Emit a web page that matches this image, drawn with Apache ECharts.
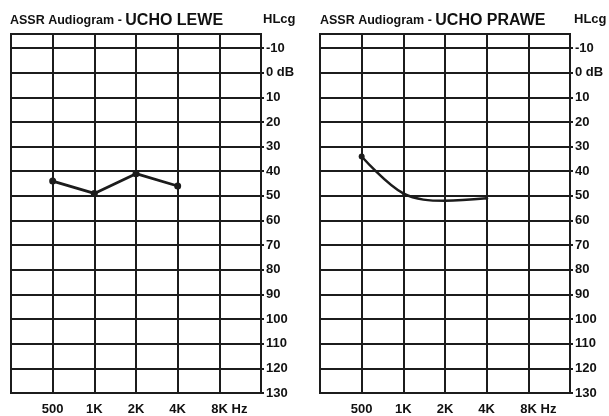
<!DOCTYPE html>
<html><head><meta charset="utf-8">
<script src="https://cdn.jsdelivr.net/npm/echarts@6/dist/echarts.min.js"></script>
<style>html,body{margin:0;padding:0;background:#fff}#c{width:609px;height:416px}</style>
</head><body><div id="c"></div>
<script>
const freqLabels = ['500', '1K', '2K', '4K', '8K'];
const leftEar = [44, 49, 41, 46, null];
const rightEar = [34, 49, 52, 51, null];
const dbTicks = [-10, 0, 10, 20, 30, 40, 50, 60, 70, 80, 90, 100, 110, 120, 130];
const titleLeft = ['ASSR Audiogram - ', 'UCHO LEWE'];
const titleRight = ['ASSR Audiogram - ', 'UCHO PRAWE'];
const unitY = 'HLcg';
const unitX = 'Hz';
const zeroLabel = '0 dB';

const cats = [''].concat(freqLabels, ['']);
const pad = arr => [null].concat(arr, [null]);
const ink = '#1c1c1c';
const fontFam = 'Liberation Sans, Arial, sans-serif';

function xAxis(gi) {
  return {
    gridIndex: gi, type: 'category', data: cats, boundaryGap: false,
    axisLine: {show: true, lineStyle: {color: ink, width: 2}},
    axisTick: {show: true, length: 3, interval: (i) => i > 0 && i < cats.length - 1, lineStyle: {color: ink, width: 2}},
    splitLine: {show: true, interval: 0, lineStyle: {color: ink, width: 2}},
    axisLabel: {
      interval: 0, margin: 10, color: '#111', fontSize: 13, fontWeight: 'bold', fontFamily: fontFam,
      formatter: (v, i) => i === cats.length - 2 ? '{p|}' + v + ' ' + unitX : v,
      rich: {p: {width: 20}}
    }
  };
}
function yAxis(gi) {
  return {
    gridIndex: gi, type: 'value', inverse: true, position: 'right',
    min: -15.7, max: 130,
    axisLine: {show: true, lineStyle: {color: ink, width: 2}},
    axisTick: {show: true, inside: false, length: 3, customValues: dbTicks, lineStyle: {color: ink, width: 2}},
    splitLine: {show: true, lineStyle: {color: ink, width: 2}},
    axisLabel: {
      customValues: dbTicks, margin: 5, color: '#111', fontSize: 13, fontWeight: 'bold', fontFamily: fontFam,
      formatter: v => v === 0 ? zeroLabel : String(v)
    }
  };
}
function title(parts, left) {
  return {
    text: '{a|' + parts[0] + '}{b|' + parts[1] + '}', left: left, top: 13, padding: 0,
    textStyle: {rich: {
      a: {fontSize: 12.5, fontFamily: fontFam, color: '#111', fontWeight: 'bold'},
      b: {fontSize: 16, fontFamily: fontFam, color: '#111'}
    }}
  };
}
function unitTitle(left) {
  return {text: unitY, left: left, top: 13, padding: 0,
    textStyle: {fontSize: 13, fontWeight: 'bold', fontFamily: fontFam, color: '#111'}};
}

const chart = echarts.init(document.getElementById('c'), null, {renderer: 'canvas'});
chart.setOption({
  animation: false,
  backgroundColor: '#fff',
  title: [title(titleLeft, 10), title(titleRight, 320), unitTitle(263), unitTitle(574)],
  grid: [
    {left: 11, right: 348, top: 34, bottom: 22, show: true, borderColor: ink, borderWidth: 2},
    {left: 320, right: 39, top: 34, bottom: 22, show: true, borderColor: ink, borderWidth: 2}
  ],
  xAxis: [xAxis(0), xAxis(1)],
  yAxis: [yAxis(0), yAxis(1)],
  series: [
    {type: 'line', xAxisIndex: 0, yAxisIndex: 0, data: pad(leftEar), symbol: 'circle', symbolSize: 7,
      lineStyle: {color: ink, width: 2.8}, itemStyle: {color: ink}},
    {type: 'line', xAxisIndex: 1, yAxisIndex: 1, data: pad(rightEar), symbol: 'circle',
      symbolSize: (v, p) => p.dataIndex === 1 ? 6 : 3, smooth: 0.35,
      lineStyle: {color: ink, width: 2.5}, itemStyle: {color: ink}}
  ]
});
</script></body></html>
